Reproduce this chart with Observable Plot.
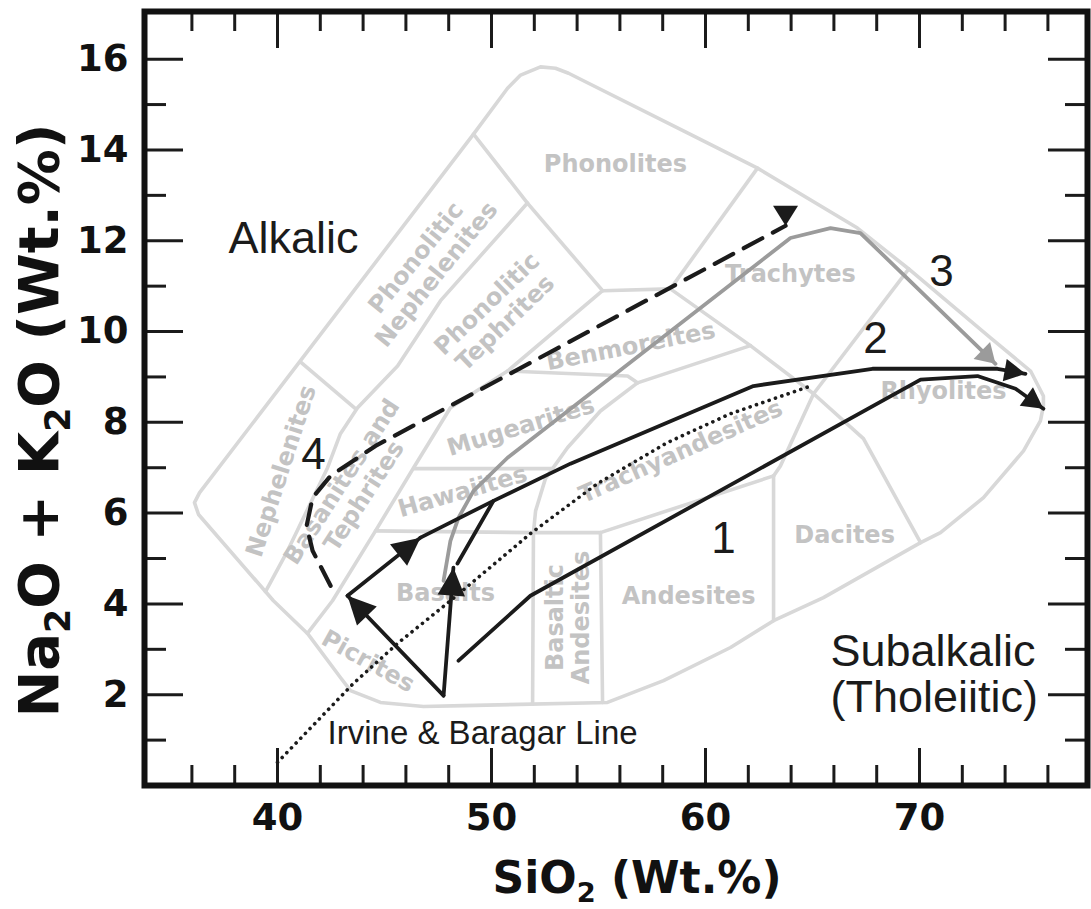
<!DOCTYPE html>
<html><head><meta charset="utf-8">
<script src="https://cdn.jsdelivr.net/npm/d3@7"></script>
<script src="https://cdn.jsdelivr.net/npm/@observablehq/plot@0.6"></script>
<style>
html,body{margin:0;padding:0;background:#fff;}
#chart svg{display:block;}
</style></head><body><div id="chart"></div>
<script>
// ---------------- DATA (SiO2 wt.%, Na2O+K2O wt.%) ----------------
const xTickLabels = [40, 50, 60, 70];
const xTicksMinor = [36, 38, 42, 44, 46, 48, 52, 54, 56, 58, 62, 64, 66, 68, 72, 74, 76];
const yTickLabels = [2, 4, 6, 8, 10, 12, 14, 16];
const yTicksMinor = [1, 3, 5, 7, 9, 11, 13, 15];

// outer (rounded) boundary of the TAS field
const fieldOutline = [[49.16,14.35],[36.36,6.45],[36.12,6.23],[36.31,5.97],[39.81,4.07],[41.40,3.35],[42.94,2.38],[43.41,2.09],[44.81,1.83],[46.82,1.74],[48.69,1.76],[55.42,1.83],[58.04,2.31],[61.17,3.04],[63.18,3.63],[65.51,4.14],[70.05,5.35],[70.98,5.57],[72.99,6.34],[74.86,7.37],[75.65,8.03],[75.79,8.36],[75.79,8.58],[75.19,9.13],[73.32,9.86],[69.44,11.40],[67.10,12.28],[62.43,13.60],[58.97,14.42],[53.60,15.69],[52.99,15.80],[52.29,15.83],[51.36,15.65],[50.75,15.36],[49.16,14.35]];

// internal field boundaries
const fieldBoundaries = [
  [[41.07,9.33],[43.64,8.30]],
  [[49.16,14.35],[51.68,12.83]],
  [[51.68,12.83],[47.62,10.68],[45.61,9.24],[43.74,8.32],[42.94,7.75],[42.34,7.00],[40.47,5.17],[39.44,4.27]],
  [[51.68,12.83],[55.19,10.90]],
  [[55.19,10.90],[58.36,10.94]],
  [[58.36,10.94],[62.43,13.60]],
  [[58.36,10.94],[62.10,9.69],[65.05,8.63]],
  [[62.10,9.69],[56.82,8.87]],
  [[56.82,8.87],[56.36,9.02],[50.75,9.13]],
  [[56.82,8.87],[55.09,8.25],[53.55,7.44],[52.52,6.76],[52.06,6.05],[51.96,5.57],[51.92,1.80]],
  [[46.36,6.98],[52.85,6.98]],
  [[44.58,5.61],[51.96,5.57]],
  [[51.96,5.57],[55.09,5.57]],
  [[55.09,5.57],[55.19,1.83]],
  [[55.09,5.57],[63.18,6.82]],
  [[63.18,6.82],[63.18,3.63]],
  [[63.18,6.82],[63.50,7.04],[65.05,8.63]],
  [[65.05,8.63],[69.50,11.38]],
  [[65.05,8.63],[67.38,7.64],[70.05,5.35]],
  [[55.19,10.90],[50.75,9.13],[48.08,8.32],[46.36,7.00],[44.58,5.61],[42.57,4.07],[41.40,3.35]]
];

// field names and their label anchor points
const fieldNames = ["Phonolites","Phonolitic\nNephelenites","Phonolitic\nTephrites","Nephelenites","Basanites and\nTephrites","Mugearites","Hawaiites","Basalts","Picrites","Basaltic\nAndesites","Andesites","Trachyandesites","Benmoreites","Trachytes","Rhyolites","Dacites"];
const fieldLabelSiO2   = [55.79, 46.92, 50.19, 40.14, 43.50, 51.36, 48.64, 47.85, 44.25, 53.55, 59.21, 58.83, 56.50, 63.97, 71.12, 66.50];
const fieldLabelAlkali = [13.69, 11.45, 10.41,  6.93,  6.54,  7.92,  6.49,  4.25,  2.75,  3.70,  4.18,  7.37,  9.69, 11.27,  8.69,  5.52];

// Irvine & Baragar alkalic / subalkalic divide
const irvineBaragar = [[40.00,0.51],[43.55,2.25],[45.61,3.13],[48.08,4.07],[51.82,5.55],[54.95,6.65],[58.2,7.55],[61.17,8.19],[64.91,8.80]];

// differentiation trends
const trend1  = [[48.46,2.75],[51.82,4.18],[70.05,8.94],[72.71,9.02],[74.49,8.74],[75.79,8.30]];
const trend2a = [[47.76,1.98],[43.27,4.18]];
const trend2b = [[43.27,4.18],[46.68,5.46]];
const trend2c = [[46.68,5.46],[50.09,6.27],[53.69,7.09],[62.24,8.80],[67.80,9.18],[73.64,9.18],[74.95,9.07]];
const trend2d = [[47.76,1.98],[48.22,4.80]];
const trend2e = [[48.41,4.89],[50.09,6.27]];
const trend3  = [[47.76,4.51],[48.08,5.39],[48.46,5.90],[49.16,6.49],[50.75,7.22],[63.97,12.06],[65.84,12.28],[67.24,12.17],[73.55,9.29]];
const trend4  = [[42.48,4.40],[41.64,5.17],[41.36,5.72],[41.64,6.34],[42.48,6.82],[44.58,7.48],[63.74,12.33]];

// text annotations
const regionNames = ["Alkalic", "Subalkalic\n(Tholeiitic)"];
const regionSiO2 = [37.71, 65.84];
const regionAlkali = [11.73, 1.61];
const lineName = ["Irvine & Baragar Line"];
const lineNameSiO2 = [42.34];
const lineNameAlkali = [0.92];
const trendNames = ["1", "2", "3", "4"];
const trendNameSiO2 = [60.84, 67.94, 71.03, 41.68];
const trendNameAlkali = [5.13, 9.53, 11.01, 6.98];

// ---------------- STYLE ----------------
const W = 1091, H = 909;
const M = {top: 11, right: 4, bottom: 124, left: 144};
const xDom = [33.785, 77.85], yDom = [0, 17.05];
const plotW = W - M.left - M.right, plotH = H - M.top - M.bottom;
const kx = plotW / (xDom[1] - xDom[0]), ky = plotH / (yDom[1] - yDom[0]);
const HEAVY = "'DejaVu Sans', Verdana, sans-serif";
const REG = "'Liberation Sans', Arial, sans-serif";
const INK = "#1b1b1b";
const FIELD_INK = "#c3c3c3";
const labelAngle = {"Phonolites":0,"Phonolitic\nNephelenites":-51,"Phonolitic\nTephrites":-44,"Nephelenites":-72,"Basanites and\nTephrites":-57,"Mugearites":-17,"Hawaiites":-16,"Basalts":0,"Picrites":29,"Basaltic\nAndesites":-90,"Andesites":0,"Trachyandesites":-24,"Benmoreites":-11,"Trachytes":0,"Rhyolites":0,"Dacites":0};

const fieldLabels = fieldNames.map((name, i) => ({name, x: fieldLabelSiO2[i], y: fieldLabelAlkali[i]}));
const boundaryRows = [fieldOutline, ...fieldBoundaries].flatMap((seg, id) => seg.map(([x, y]) => ({x, y, id})));
const regions = regionNames.map((t, i) => ({t, x: regionSiO2[i], y: regionAlkali[i]}));
const lineNames = lineName.map((t, i) => ({t, x: lineNameSiO2[i], y: lineNameAlkali[i]}));
const trendLabels = trendNames.map((t, i) => ({t, x: trendNameSiO2[i], y: trendNameAlkali[i]}));

function heading(s) {
  const p = s[s.length - 2], q = s[s.length - 1];
  return {x: q[0], y: q[1], angle: Math.atan2((q[0] - p[0]) * kx, (q[1] - p[1]) * ky) * 180 / Math.PI};
}
function arrowHead(ratio) {
  return {draw(ctx, size) {
    const l = Math.sqrt(size / Math.PI), w = l * ratio / 2;
    ctx.moveTo(0, 0); ctx.lineTo(-w, l); ctx.lineTo(w, l); ctx.closePath();
  }};
}
const bigHeads = [trend2a, trend2b, trend2d].map(heading);
const smallHeads = [trend1, trend2c].map(heading);
const grayHeads = [trend3].map(heading);
const endMark = [trend4].map(s => ({x: s[s.length - 1][0], y: s[s.length - 1][1]}));

const X = d => d[0], Y = d => d[1];
const lineStyle = {x: X, y: Y, stroke: INK, strokeWidth: 3.8, strokeLinejoin: "round"};

const plot = Plot.plot({
  width: W, height: H,
  marginTop: M.top, marginRight: M.right, marginBottom: M.bottom, marginLeft: M.left,
  x: {domain: xDom},
  y: {domain: yDom},
  style: {background: "#fff", fontFamily: REG, overflow: "visible"},
  marks: [
    Plot.line(boundaryRows, {x: "x", y: "y", z: "id", stroke: "#d8d8d8", strokeWidth: 3.6, strokeLinejoin: "round"}),
    Plot.text(fieldLabels, {x: "x", y: "y", text: "name", rotate: d => labelAngle[d.name], fill: FIELD_INK,
      fontSize: 24, fontWeight: "bold", fontFamily: HEAVY, lineHeight: 1.1}),
    Plot.line(irvineBaragar, {x: X, y: Y, stroke: INK, strokeWidth: 3.6, strokeDasharray: "0.1,6.6", strokeLinecap: "round"}),
    Plot.line(trend3, {x: X, y: Y, stroke: "#9b9b9b", strokeWidth: 3.8, strokeLinejoin: "round"}),
    Plot.line(trend4, {x: X, y: Y, stroke: INK, strokeWidth: 4.2, strokeDasharray: "21,12"}),
    Plot.line(trend1, lineStyle),
    Plot.line(trend2a, lineStyle),
    Plot.line(trend2b, lineStyle),
    Plot.line(trend2c, lineStyle),
    Plot.line(trend2d, lineStyle),
    Plot.line(trend2e, lineStyle),
    Plot.dot(bigHeads, {x: "x", y: "y", rotate: "angle", r: 28, symbol: arrowHead(0.98), fill: INK, stroke: "none"}),
    Plot.dot(smallHeads, {x: "x", y: "y", rotate: "angle", r: 21, symbol: arrowHead(1.08), fill: INK, stroke: "none"}),
    Plot.dot(grayHeads, {x: "x", y: "y", rotate: "angle", r: 19, symbol: arrowHead(1.25), fill: "#9b9b9b", stroke: "none"}),
    Plot.dot(endMark, {x: "x", y: "y", rotate: 180, r: 20, symbol: arrowHead(1.25), fill: INK, stroke: "none"}),
    Plot.text(regions, {x: "x", y: "y", text: "t", textAnchor: "start", lineAnchor: "bottom", fontSize: 45, lineHeight: 1.03, fill: INK, fontFamily: REG}),
    Plot.text(lineNames, {x: "x", y: "y", text: "t", textAnchor: "start", lineAnchor: "bottom", fontSize: 33, fill: INK, fontFamily: REG}),
    Plot.text(trendLabels, {x: "x", y: "y", text: "t", textAnchor: "middle", lineAnchor: "bottom", fontSize: 44, fill: INK, fontFamily: REG}),
    // inward ticks on all four sides
    Plot.tickX(xTickLabels, {x: d => d, insetTop: plotH - 37, stroke: INK, strokeWidth: 3}),
    Plot.tickX(xTicksMinor, {x: d => d, insetTop: plotH - 20, stroke: INK, strokeWidth: 3}),
    Plot.tickX(xTickLabels, {x: d => d, insetBottom: plotH - 37, stroke: INK, strokeWidth: 3}),
    Plot.tickX(xTicksMinor, {x: d => d, insetBottom: plotH - 20, stroke: INK, strokeWidth: 3}),
    Plot.tickY(yTickLabels, {y: d => d, insetRight: plotW - 39, stroke: INK, strokeWidth: 3}),
    Plot.tickY(yTicksMinor, {y: d => d, insetRight: plotW - 22, stroke: INK, strokeWidth: 3}),
    Plot.tickY(yTickLabels, {y: d => d, insetLeft: plotW - 39, stroke: INK, strokeWidth: 3}),
    Plot.tickY(yTicksMinor, {y: d => d, insetLeft: plotW - 22, stroke: INK, strokeWidth: 3}),
    Plot.frame({stroke: "#111", strokeWidth: 6}),
    Plot.axisX(xTickLabels, {anchor: "bottom", tickSize: 0, tickPadding: 18, fontSize: 37, fontWeight: "bold", fontFamily: HEAVY, fill: "#111", label: null}),
    Plot.axisY(yTickLabels, {anchor: "left", tickSize: 0, tickPadding: 16, fontSize: 37, fontWeight: "bold", fontFamily: HEAVY, fill: "#111", label: null}),
    Plot.text(["SiO2 (Wt.%)"], {frameAnchor: "bottom", dx: 21, dy: 76, textAnchor: "middle", lineAnchor: "top", fontSize: 44, fontWeight: "bold", fontFamily: HEAVY, fill: "#111"}),
    Plot.text(["Na2O + K2O (Wt.%)"], {frameAnchor: "left", rotate: -90, dx: -104, dy: 22, textAnchor: "middle", lineAnchor: "middle", fontSize: 56, fontWeight: "bold", fontFamily: HEAVY, fill: "#111"})
  ]
});

// chemical subscripts in the axis titles
function subscriptify(el, parts, fs) {
  el.textContent = "";
  const ns = "http://www.w3.org/2000/svg";
  const shift = fs * 0.2;
  parts.forEach(([t, sub], i) => {
    const ts = document.createElementNS(ns, "tspan");
    ts.textContent = t;
    if (sub) { ts.setAttribute("dy", shift); ts.setAttribute("font-size", fs * 0.62); }
    else if (i > 0) ts.setAttribute("dy", -shift);
    el.appendChild(ts);
  });
}
d3.select(plot).selectAll("text").each(function () {
  const t = this.textContent;
  if (t === "SiO2 (Wt.%)") subscriptify(this, [["SiO", 0], ["2", 1], [" (Wt.%)", 0]], 44);
  if (t === "Na2O + K2O (Wt.%)") subscriptify(this, [["Na", 0], ["2", 1], ["O + K", 0], ["2", 1], ["O (Wt.%)", 0]], 56);
});
document.getElementById("chart").appendChild(plot);
</script>
</body></html>
